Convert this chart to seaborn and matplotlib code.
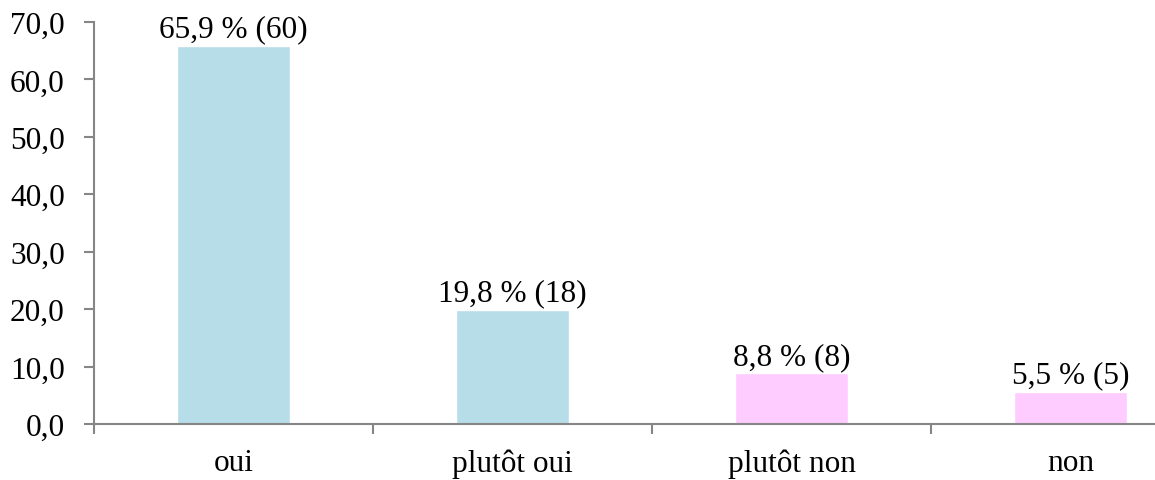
import matplotlib
matplotlib.use("Agg")
import matplotlib.pyplot as plt
import seaborn as sns
import pandas as pd

categories = ["oui", "plutôt oui", "plutôt non", "non"]
percents = [65.9, 19.8, 8.8, 5.5]
counts = [60, 18, 8, 5]
colors = ["#B7DDE8", "#B7DDE8", "#FFCCFF", "#FFCCFF"]
yticks = [0, 10, 20, 30, 40, 50, 60, 70]

sns.set_theme(style="white")
plt.rcParams["font.family"] = ["Liberation Serif", "DejaVu Serif"]

FS = 22.5

df = pd.DataFrame({"cat": categories, "pct": percents})

fig = plt.figure(figsize=(11.55, 4.81), dpi=100)
ax = fig.add_axes([94 / 1155, 1 - 425 / 481, 1116 / 1155, 402 / 481])

sns.barplot(data=df, x="cat", y="pct", hue="cat", palette=colors,
            width=0.405, legend=False, ax=ax, saturation=1)

ax.set_ylim(0, 70)
ax.set_xlim(-0.5, 3.5)
ax.set_yticks(yticks)
ax.set_yticklabels([f"{v:.1f}".replace(".", ",") for v in yticks])
ax.set_xticks([-0.5, 0.5, 1.5, 2.5], minor=False)
ax.set_xticklabels([])
ax.set_xticks([0, 1, 2, 3], minor=True)
ax.set_xticklabels(categories, minor=True)
ax.set_xlabel("")
ax.set_ylabel("")

spine_col = "#868686"
for s in ["top", "right"]:
    ax.spines[s].set_visible(False)
for s in ["left", "bottom"]:
    ax.spines[s].set_color(spine_col)
    ax.spines[s].set_linewidth(1.5)

ax.tick_params(axis="y", which="major", direction="out", length=7, width=1.5,
               color=spine_col, labelsize=FS, labelcolor="black", pad=14, left=True)
ax.tick_params(axis="x", which="major", direction="out", length=7, width=1.5,
               color=spine_col, bottom=True)
ax.tick_params(axis="x", which="minor", length=0, labelsize=FS,
               labelcolor="black", pad=17.5, bottom=True)

for i, (p, c) in enumerate(zip(percents, counts)):
    ax.annotate(f"{p:.1f}".replace(".", ",") + f" % ({c})", xy=(i, p),
                xytext=(0, 7), textcoords="offset points", ha="center",
                va="baseline", fontsize=FS, color="black", annotation_clip=False)

fig.savefig("out.png", dpi=100)
